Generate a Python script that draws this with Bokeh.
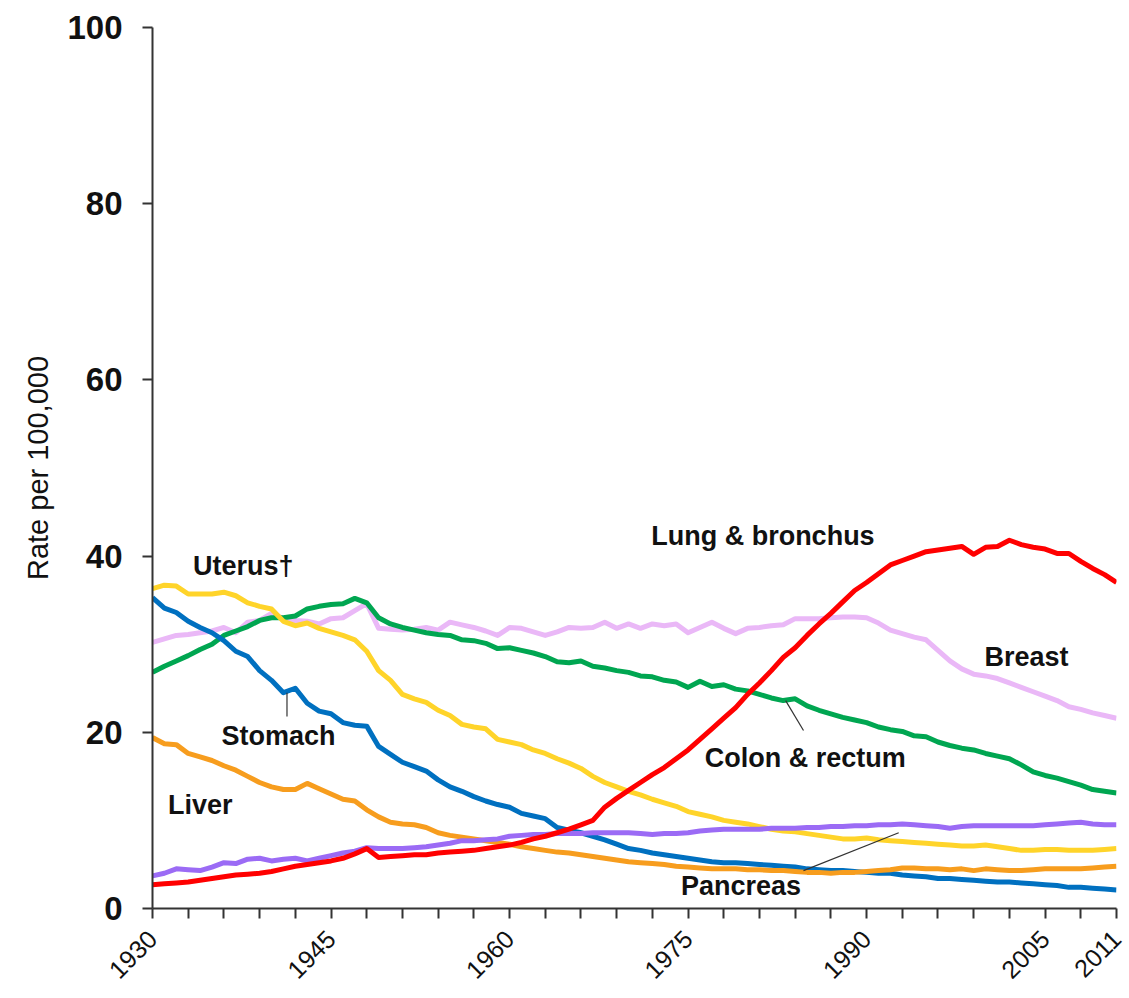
from bokeh.plotting import figure
from bokeh.models import FixedTicker, Range1d, ColumnDataSource
from bokeh.core.properties import value
from bokeh.embed import file_html
from bokeh.resources import INLINE
import math

years = list(range(1930, 2012))

lung = [2.7, 2.8, 2.9, 3.0, 3.2, 3.4, 3.6, 3.8, 3.9, 4.0, 4.2, 4.5, 4.8, 5.0, 5.2, 5.4, 5.7, 6.2, 6.8, 5.8,
        5.9, 6.0, 6.1, 6.1, 6.3, 6.4, 6.5, 6.6, 6.8, 7.0, 7.2, 7.5, 7.9, 8.2, 8.6, 9.0, 9.5, 10.0, 11.5, 12.5,
        13.4, 14.3, 15.2, 16.0, 17.0, 18.0, 19.2, 20.4, 21.6, 22.8, 24.3, 25.6, 27.0, 28.5, 29.6, 31.0, 32.3, 33.5, 34.8, 36.1,
        37.0, 38.0, 39.0, 39.5, 40.0, 40.5, 40.7, 40.9, 41.1, 40.2, 41.0, 41.1, 41.8, 41.3, 41.0, 40.8, 40.3, 40.3, 39.4, 38.6,
        37.9, 37.0]
breast = [30.2, 30.6, 31.0, 31.1, 31.3, 31.5, 31.9, 31.3, 32.5, 32.7, 33.5, 32.9, 32.7, 32.6, 32.3, 32.9, 33.0, 33.8, 34.6, 31.8,
          31.7, 31.6, 31.7, 31.9, 31.6, 32.5, 32.2, 31.9, 31.5, 31.0, 31.9, 31.8, 31.4, 31.0, 31.4, 31.9, 31.8, 31.9, 32.5, 31.8,
          32.3, 31.8, 32.3, 32.1, 32.3, 31.3, 31.9, 32.5, 31.8, 31.2, 31.8, 31.9, 32.1, 32.2, 32.9, 32.9, 32.9, 33.0, 33.1, 33.1,
          33.0, 32.4, 31.6, 31.2, 30.8, 30.5, 29.3, 28.1, 27.2, 26.6, 26.4, 26.1, 25.6, 25.1, 24.6, 24.1, 23.6, 22.9, 22.6, 22.2,
          21.9, 21.6]
colon = [26.8, 27.5, 28.1, 28.7, 29.4, 30.0, 31.0, 31.5, 32.0, 32.7, 33.0, 33.0, 33.2, 34.0, 34.3, 34.5, 34.6, 35.2, 34.7, 33.0,
         32.3, 31.9, 31.6, 31.3, 31.1, 31.0, 30.5, 30.4, 30.1, 29.5, 29.6, 29.3, 29.0, 28.6, 28.0, 27.9, 28.1, 27.5, 27.3, 27.0,
         26.8, 26.4, 26.3, 25.9, 25.7, 25.1, 25.8, 25.2, 25.4, 24.9, 24.7, 24.3, 23.9, 23.6, 23.8, 23.0, 22.5, 22.1, 21.7, 21.4,
         21.1, 20.6, 20.3, 20.1, 19.6, 19.5, 18.9, 18.5, 18.2, 18.0, 17.6, 17.3, 17.0, 16.3, 15.5, 15.1, 14.8, 14.4, 14.0, 13.5,
         13.3, 13.1]
stomach = [35.3, 34.1, 33.6, 32.6, 31.9, 31.3, 30.4, 29.2, 28.6, 27.0, 25.9, 24.5, 25.0, 23.3, 22.4, 22.1, 21.1, 20.8, 20.7, 18.4,
           17.5, 16.6, 16.1, 15.6, 14.6, 13.8, 13.3, 12.7, 12.2, 11.8, 11.5, 10.8, 10.5, 10.2, 9.2, 8.9, 8.6, 8.2, 7.8, 7.3,
           6.8, 6.6, 6.3, 6.1, 5.9, 5.7, 5.5, 5.3, 5.2, 5.2, 5.1, 5.0, 4.9, 4.8, 4.7, 4.5, 4.4, 4.3, 4.3, 4.2,
           4.1, 4.0, 4.0, 3.8, 3.7, 3.6, 3.4, 3.4, 3.3, 3.2, 3.1, 3.0, 3.0, 2.9, 2.8, 2.7, 2.6, 2.4, 2.4, 2.3,
           2.2, 2.1]
uterus = [36.3, 36.7, 36.6, 35.7, 35.7, 35.7, 35.9, 35.5, 34.7, 34.3, 34.0, 32.6, 32.1, 32.4, 31.8, 31.4, 31.0, 30.5, 29.2, 27.0,
          25.9, 24.3, 23.8, 23.4, 22.5, 21.9, 20.9, 20.6, 20.4, 19.2, 18.9, 18.6, 18.0, 17.6, 17.0, 16.5, 15.9, 15.0, 14.3, 13.8,
          13.3, 12.9, 12.4, 12.0, 11.6, 11.0, 10.7, 10.4, 10.0, 9.8, 9.6, 9.3, 9.0, 8.8, 8.7, 8.5, 8.3, 8.1, 7.9, 7.9,
          8.0, 7.8, 7.7, 7.6, 7.5, 7.4, 7.3, 7.2, 7.1, 7.1, 7.2, 7.0, 6.8, 6.6, 6.6, 6.7, 6.7, 6.6, 6.6, 6.6,
          6.7, 6.8]
liver = [19.4, 18.7, 18.6, 17.6, 17.2, 16.8, 16.2, 15.7, 15.0, 14.3, 13.8, 13.5, 13.5, 14.2, 13.6, 13.0, 12.4, 12.2, 11.2, 10.4,
         9.8, 9.6, 9.5, 9.2, 8.6, 8.3, 8.1, 7.9, 7.7, 7.5, 7.3, 7.0, 6.8, 6.6, 6.4, 6.3, 6.1, 5.9, 5.7, 5.5,
         5.3, 5.2, 5.1, 5.0, 4.8, 4.7, 4.6, 4.5, 4.5, 4.5, 4.4, 4.4, 4.3, 4.3, 4.2, 4.1, 4.1, 4.0, 4.1, 4.1,
         4.2, 4.3, 4.4, 4.6, 4.6, 4.5, 4.5, 4.4, 4.5, 4.3, 4.5, 4.4, 4.3, 4.3, 4.4, 4.5, 4.5, 4.5, 4.5, 4.6,
         4.7, 4.8]
pancreas = [3.7, 4.0, 4.5, 4.4, 4.3, 4.7, 5.2, 5.1, 5.6, 5.7, 5.4, 5.6, 5.7, 5.4, 5.7, 6.0, 6.3, 6.5, 6.9, 6.8,
            6.8, 6.8, 6.9, 7.0, 7.2, 7.4, 7.7, 7.7, 7.8, 7.9, 8.2, 8.3, 8.4, 8.4, 8.5, 8.5, 8.5, 8.6, 8.6, 8.6,
            8.6, 8.5, 8.4, 8.5, 8.5, 8.6, 8.8, 8.9, 9.0, 9.0, 9.0, 9.0, 9.1, 9.1, 9.1, 9.2, 9.2, 9.3, 9.3, 9.4,
            9.4, 9.5, 9.5, 9.6, 9.5, 9.4, 9.3, 9.1, 9.3, 9.4, 9.4, 9.4, 9.4, 9.4, 9.4, 9.5, 9.6, 9.7, 9.8, 9.6,
            9.5, 9.5]

series_names = ["Breast", "Colon & rectum", "Uterus\u2020", "Stomach", "Liver", "Pancreas", "Lung & bronchus"]
series_values = [breast, colon, uterus, stomach, liver, pancreas, lung]
series_colors = ["#EAB8F7", "#00A651", "#FFD42A", "#0070C0", "#F79D1E", "#9B6BF5", "#FF0000"]

# label text, anchor (year, rate)
label_texts = ["Uterus\u2020", "Stomach", "Liver", "Lung & bronchus", "Breast", "Colon & rectum", "Pancreas"]
label_x = [1933.4, 1935.8, 1931.3, 1971.9, 1999.9, 1976.4, 1974.4]
label_y = [38.9, 19.6, 11.7, 42.3, 28.5, 17.1, 2.6]

# leader lines (year0, rate0, year1, rate1)
leader_x0 = [1941.3, 1983.2, 1984.7]
leader_y0 = [24.5, 23.6, 4.3]
leader_x1 = [1941.3, 1984.7, 1992.7]
leader_y1 = [21.8, 20.2, 8.6]

x_ticks = list(range(1930, 2012, 3))
x_labeled = [1930, 1945, 1960, 1975, 1990, 2005, 2011]
y_ticks = [0, 20, 40, 60, 80, 100]

FONT = "Liberation Sans"

p = figure(width=1129, height=998, output_backend="svg", toolbar_location=None,
           x_range=Range1d(1930, 2011), y_range=Range1d(0, 100),
           min_border_left=152, min_border_right=13, min_border_top=27, min_border_bottom=90)
p.outline_line_color = None
p.xgrid.grid_line_color = None
p.ygrid.grid_line_color = None
p.background_fill_color = "white"
p.border_fill_color = "white"

for name, vals, col in zip(series_names, series_values, series_colors):
    p.line(years, vals, line_color=col, line_width=5, line_join="round")

p.segment(x0=leader_x0, y0=leader_y0, x1=leader_x1, y1=leader_y1, line_color="#333333", line_width=1.2)

src = ColumnDataSource(dict(x=label_x, y=label_y, t=label_texts))
p.text(x="x", y="y", text="t", source=src, text_font=value(FONT), text_font_style="bold",
       text_font_size="27px", text_baseline="middle", text_align="left", text_color="#111111")

# axes
p.xaxis.ticker = FixedTicker(ticks=x_ticks)
p.xaxis.major_label_overrides = {t: (str(t) if t in x_labeled else "") for t in x_ticks}
p.xaxis.major_label_orientation = math.radians(45)
p.xaxis.major_label_text_font = FONT
p.xaxis.major_label_text_font_style = "normal"
p.xaxis.major_label_text_font_size = "25px"
p.xaxis.major_label_text_color = "#111111"
p.xaxis.major_tick_out = 10
p.xaxis.major_tick_in = 0
p.xaxis.minor_tick_out = 0
p.xaxis.minor_tick_in = 0
p.xaxis.major_label_standoff = 16

p.yaxis.ticker = FixedTicker(ticks=y_ticks)
p.yaxis.major_label_text_font = FONT
p.yaxis.major_label_text_font_style = "bold"
p.yaxis.major_label_text_font_size = "33px"
p.yaxis.major_label_text_color = "#111111"
p.yaxis.major_tick_out = 10
p.yaxis.major_tick_in = 0
p.yaxis.minor_tick_out = 0
p.yaxis.minor_tick_in = 0
p.yaxis.major_label_standoff = 20
p.yaxis.axis_label = "Rate per 100,000"
p.yaxis.axis_label_text_font = FONT
p.yaxis.axis_label_text_font_style = "normal"
p.yaxis.axis_label_text_font_size = "29px"
p.yaxis.axis_label_text_color = "#111111"
p.yaxis.axis_label_standoff = 10

for ax in (p.xaxis, p.yaxis):
    ax.axis_line_color = "#333333"
    ax.axis_line_width = 2
    ax.major_tick_line_color = "#333333"
    ax.major_tick_line_width = 2

open("out.html", "w").write(file_html(p, INLINE))
